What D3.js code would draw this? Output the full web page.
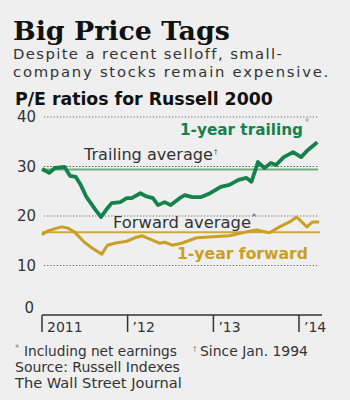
<!DOCTYPE html>
<html>
<head>
<meta charset="utf-8">
<script src="https://cdn.jsdelivr.net/npm/d3@7"></script>
<style>
  body { margin: 0; background: #efefef; }
  svg { display: block; }
  text { font-family: "DejaVu Sans", "Open Sans", sans-serif; fill: #2b2b2b; }
</style>
</head>
<body>
<svg width="350" height="400"></svg>
<script>
// ----- Data -----
const trailingDates = ["2011-01-01","2011-02-01","2011-02-25","2011-04-07","2011-05-01","2011-05-25","2011-06-15","2011-07-10",
  "2011-08-18","2011-09-10","2011-10-01","2011-10-25","2011-12-01","2011-12-28","2012-01-18","2012-02-25","2012-03-18",
  "2012-04-18","2012-05-10","2012-06-07","2012-07-03","2012-08-10","2012-09-01","2012-10-03","2012-11-07","2012-12-18",
  "2013-02-01","2013-03-10","2013-04-18","2013-05-22","2013-06-12","2013-07-10","2013-08-07","2013-09-03","2013-09-25",
  "2013-10-28","2013-12-07","2014-01-10","2014-02-07","2014-03-20"];
const trailingValues = [29.5, 28.7, 29.7, 29.9, 28.1, 27.9, 26.3, 23.8, 21.2, 19.8, 21.2, 22.6, 22.8, 23.6, 23.6, 24.6, 24.0,
  23.6, 22.2, 22.8, 22.2, 23.6, 24.2, 23.8, 23.8, 24.6, 25.9, 26.3, 27.3, 27.7, 26.9, 30.9, 29.7, 30.7, 30.3,
  31.9, 32.9, 31.9, 33.3, 34.9];

const forwardDates = ["2011-01-01","2011-01-26","2011-03-25","2011-04-19","2011-05-19","2011-07-01","2011-08-04","2011-09-13",
  "2011-10-07","2011-11-07","2011-12-28","2012-02-01","2012-03-04","2012-04-13","2012-05-16","2012-06-07","2012-07-10",
  "2012-08-18","2012-10-22","2012-12-28","2013-03-10","2013-05-22","2013-07-04","2013-08-28","2013-10-10","2013-11-22",
  "2013-12-22","2014-02-04","2014-02-28","2014-03-28"];
const forwardValues = [16.2, 17.0, 17.8, 17.6, 16.8, 14.7, 13.5, 12.3, 14.1, 14.5, 14.9, 15.6, 16.0, 15.2, 14.5, 14.7, 14.1,
  14.5, 15.6, 15.8, 16.0, 16.8, 17.2, 16.6, 17.8, 18.8, 19.8, 17.8, 18.8, 18.8];

const trailingAverage = 29.6;
const forwardAverage = 16.7;

const yTicks = [0, 10, 20, 30, 40];
const xTickDates = ["2011-01-01", "2012-01-01", "2013-01-01", "2014-01-01"];
const xTickLabels = ["2011", "\u201912", "\u201913", "\u201914"];

// ----- Colours -----
const green = "#14824a", greenLight = "#6cb27e", gold = "#c9a024", goldLine = "#cfaa3a";

const parse = d3.timeParse("%Y-%m-%d");
const trailing = trailingDates.map((d, i) => ({ date: parse(d), value: trailingValues[i] }));
const forward = forwardDates.map((d, i) => ({ date: parse(d), value: forwardValues[i] }));

const svg = d3.select("svg");

// scale a text's font so it spans the given width
function fit(sel, width) {
  const len = sel.node().getComputedTextLength();
  const fs = parseFloat(sel.style("font-size"));
  sel.style("font-size", (fs * width / len).toFixed(2) + "px");
  return sel;
}
// widen a text by letter spacing instead of size
function spread(sel, width) {
  const len = sel.node().getComputedTextLength();
  const n = sel.text().length;
  sel.style("letter-spacing", ((width - len) / n).toFixed(2) + "px");
  return sel;
}
function label(x0, y0, str, size, color, weight) {
  return svg.append("text").attr("x", x0).attr("y", y0)
    .style("font-size", size + "px").style("fill", color).style("font-weight", weight || "normal").text(str);
}

// ----- Headings -----
fit(label(13, 40, "Big Price Tags", 26, "#111", "bold").style("font-family", "'DejaVu Serif', serif"), 217);
spread(label(13, 59, "Despite a recent selloff, small-", 14.8, "#333"), 270);
spread(label(13, 77, "company stocks remain expensive.", 14.8, "#333"), 317);
fit(label(15, 105, "P/E ratios for Russell 2000", 15, "#111", "bold"), 258);

// ----- Scales -----
const x = d3.scaleTime().domain([parse("2011-01-01"), parse("2014-01-01")]).range([42, 299]);
const y = d3.scaleLinear().domain([0, 40]).range([315, 117]);
const xEnd = 322;

// ----- Grid -----
svg.append("g").selectAll("line").data(yTicks.filter(d => d > 0)).join("line")
  .attr("x1", 44).attr("x2", 318)
  .attr("y1", d => y(d)).attr("y2", d => y(d))
  .attr("stroke", "#666").attr("stroke-width", 1).attr("stroke-dasharray", "1.2,2");

svg.append("g").selectAll("text").data(yTicks).join("text")
  .attr("x", d => d === 0 ? 34 : 36).attr("y", d => d === 0 ? y(d) - 2 : y(d) + 5)
  .attr("text-anchor", "end").style("font-size", "15px").style("fill", "#333")
  .text(d => d);

// ----- Averages -----
svg.append("line").attr("x1", 44).attr("x2", 318)
  .attr("y1", y(trailingAverage) + 1).attr("y2", y(trailingAverage) + 1)
  .attr("stroke", greenLight).attr("stroke-width", 2);
svg.append("line").attr("x1", 44).attr("x2", 318)
  .attr("y1", y(30)).attr("y2", y(30))
  .attr("stroke", "#666").attr("stroke-width", 1).attr("stroke-dasharray", "1.2,2");
svg.append("line").attr("x1", 42).attr("x2", 320)
  .attr("y1", y(forwardAverage)).attr("y2", y(forwardAverage))
  .attr("stroke", goldLine).attr("stroke-width", 2);

// ----- Lines -----
const line = d3.line().x(d => x(d.date)).y(d => y(d.value));
svg.append("path").datum(forward).attr("fill", "none").attr("stroke", gold)
  .attr("stroke-width", 3).attr("stroke-linejoin", "round").attr("d", line);
svg.append("path").datum(trailing).attr("fill", "none").attr("stroke", green)
  .attr("stroke-width", 3.8).attr("stroke-linejoin", "round").attr("d", line);

// ----- X axis -----
svg.append("line").attr("x1", 42).attr("x2", xEnd).attr("y1", 315).attr("y2", 315)
  .attr("stroke", "#333").attr("stroke-width", 1.5);
const xt = svg.append("g").selectAll("g").data(xTickDates).join("g")
  .attr("transform", d => `translate(${x(parse(d))},315)`);
xt.append("line").attr("y2", 17).attr("stroke", "#333").attr("stroke-width", 1.5);
xt.append("text").attr("x", 5).attr("y", 17).style("font-size", "14px").style("fill", "#333")
  .text((d, i) => xTickLabels[i]);

// ----- Series labels -----
fit(label(180, 135, "1-year trailing", 14, green, "bold"), 123);
label(305, 125, "*", 8, greenLight);

fit(label(84, 160, "Trailing average", 14, "#333"), 129);
label(214, 154, "\u2020", 7, "#555");

fit(label(113, 228, "Forward average", 14, "#333"), 138);
label(252, 220, "*", 8, "#555");

fit(label(177, 259, "1-year forward", 14, gold, "bold"), 131);

// ----- Footnotes -----
fit(label(24, 356, "Including net earnings", 12, "#333"), 153);
label(15, 351, "*", 8, "#777");
fit(label(200, 356, "Since Jan. 1994", 12, "#333"), 108);
label(193, 351, "\u2020", 7, "#777");
fit(label(15, 372, "Source: Russell Indexes", 12, "#333"), 165);
fit(label(15, 388, "The Wall Street Journal", 12, "#333"), 167);
</script>
</body>
</html>
